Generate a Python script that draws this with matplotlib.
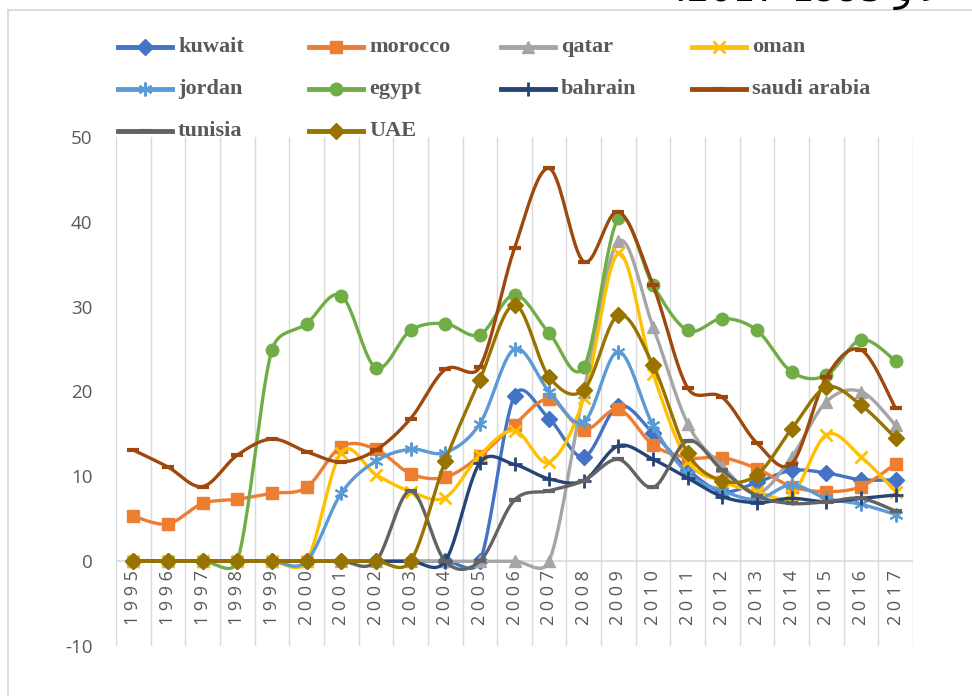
import numpy as np
import matplotlib
matplotlib.use("Agg")
import matplotlib.pyplot as plt
from matplotlib.lines import Line2D

plt.rcParams["axes.unicode_minus"] = False

# values
years = list(range(1995, 2018))

kuwait = [0, 0, 0, 0, 0, 0, 0, 0, 0, 0, 0,
          19.5, 16.8, 12.3, 18.3, 15.1, 10.8, 8.2, 9.3, 10.7, 10.4, 9.6, 9.6]
morocco = [5.3, 4.4, 6.8, 7.3, 8.0, 8.7, 13.5, 13.2, 10.3, 9.9, 12.4, 16.1,
           19.1, 15.5, 17.9, 13.7, 12.2, 12.2, 10.9, 8.8, 8.2, 8.8, 11.5]
qatar = [0, 0, 0, 0, 0, 0, 0, 0, 0, 0, 0, 0, 0,
         20.0, 37.7, 27.6, 16.2, 11.2, 8.0, 12.3, 18.8, 20.0, 16.0]
oman = [0, 0, 0, 0, 0, 0,
        12.8, 10.2, 8.2, 7.5, 12.5, 15.4, 11.7, 19.2, 36.3, 22.1, 11.8, 9.4,
        8.2, 7.8, 14.9, 12.3, 8.2]
jordan = [0, 0, 0, 0, 0, 0,
          8.0, 11.8, 13.2, 12.8, 16.2, 25.0, 20.0, 16.4, 24.7, 16.0, 10.3, 8.3,
          7.3, 9.0, 7.4, 6.7, 5.5]
egypt = [0, 0, 0, 0, 24.9, 28.0, 31.3, 22.8, 27.2, 28.0, 26.7, 31.4, 26.9,
         22.9, 40.4, 32.5, 27.2, 28.6, 27.2, 22.3, 21.9, 26.1, 23.6]
bahrain = [0, 0, 0, 0, 0, 0, 0, 0, 0, 0,
           11.6, 11.4, 9.7, 9.5, 13.6, 12.0, 9.8, 7.6, 6.9, 7.4, 7.0, 7.4, 7.8]
saudi_arabia = [13.1, 11.1, 8.8, 12.5, 14.4, 12.9, 11.7, 13.1, 16.8, 22.6,
                22.9, 36.9, 46.3, 35.3, 41.2, 32.5, 20.4, 19.3, 13.9, 11.5,
                21.7, 24.9, 18.0]
tunisia = [0, 0, 0, 0, 0, 0, 0, 0,
           8.3, 0, 0, 7.2, 8.3, 9.5, 12.0, 8.7, 14.2, 10.7, 7.7, 6.8, 7.0,
           7.4, 5.9]
uae = [0, 0, 0, 0, 0, 0, 0, 0, 0,
       11.8, 21.4, 30.2, 21.7, 20.2, 29.0, 23.1, 12.7, 9.5, 10.2, 15.6, 20.5,
       18.4, 14.5]

names = ["kuwait", "morocco", "qatar", "oman", "jordan", "egypt",
         "bahrain", "saudi arabia", "tunisia", "UAE"]
data = [kuwait, morocco, qatar, oman, jordan, egypt,
        bahrain, saudi_arabia, tunisia, uae]
colors = ["#4472C4", "#ED7D31", "#A5A5A5", "#FFC000", "#5B9BD5", "#70AD47",
          "#264478", "#9E480E", "#636363", "#997300"]
# marker, size, edge width
markers = [("D", 8, 1), ("s", 9, 1), ("^", 9, 1), ("x", 9, 2),
           ((6, 2, 0), 10, 1.5), ("o", 9, 1), ("+", 10, 2),
           ("_", 9, 3), ("_", 9, 3), ("D", 8, 1)]

W, H = 972, 696
PX = np.array([797 / 23, 509 / 60])   # pixels per data unit (x, y)


def smooth(y, n=24):
    # bezier smoothing like the office "smoothed line",
    # control arms capped at half the segment length (in pixels)
    pts = np.column_stack([np.arange(len(y)), np.asarray(y, float)])
    p = np.vstack([pts[0], pts, pts[-1]])
    t = np.linspace(0, 1, n)[:, None]
    out = []
    for i in range(1, len(p) - 2):
        p0, p1, p2, p3 = p[i - 1], p[i], p[i + 1], p[i + 2]
        half = np.linalg.norm((p2 - p1) * PX) / 2
        a1 = (p2 - p0) / 6
        a2 = (p3 - p1) / 6
        l1 = np.linalg.norm(a1 * PX)
        l2 = np.linalg.norm(a2 * PX)
        if l1 > half:
            a1 = a1 * half / l1
        if l2 > half:
            a2 = a2 * half / l2
        c1 = p1 + a1
        c2 = p2 - a2
        seg = (1 - t) ** 3 * p1 + 3 * (1 - t) ** 2 * t * c1 \
            + 3 * (1 - t) * t ** 2 * c2 + t ** 3 * p2
        out.append(seg if i == 1 else seg[1:])
    return np.vstack(out)


fig = plt.figure(figsize=(W / 100, H / 100), dpi=100)
ax = fig.add_axes([116 / W, 1 - 646 / H, 797 / W, 509 / H])

grid = "#D9D9D9"
for k in range(len(years) + 1):
    ax.plot([k - 0.5, k - 0.5], [-10, 50], color=grid, lw=1, zorder=0)
ax.plot([-0.5, len(years) - 0.5], [0, 0], color=grid, lw=1.2, zorder=0)

x = np.arange(len(years))
for i, (vals, col, mk) in enumerate(zip(data, colors, markers)):
    c = smooth(vals)
    ax.plot(c[:, 0], c[:, 1], color=col, lw=2.4, solid_capstyle="round",
            zorder=2 + i)
    ax.plot(x, vals, ls="none", marker=mk[0], ms=mk[1], mew=mk[2],
            color=col, mec=col, zorder=2 + i)

ax.set_xlim(-0.5, len(years) - 0.5)
ax.set_ylim(-10, 50)
for s in ax.spines.values():
    s.set_visible(False)
ax.set_xticks([])
ax.set_yticks(range(-10, 51, 10))
ax.tick_params(axis="y", length=0, pad=17, labelsize=13.5, labelcolor="#595959")
for lab in ax.get_yticklabels():
    lab.set_family("Open Sans")

for i, yr in enumerate(years):
    ax.text(i, -1.1, " ".join(str(yr)), rotation=90, ha="center", va="top",
            fontsize=13, color="#595959", family="Open Sans")

# legend, drawn by hand in 4 columns
col_x = [118, 309, 501, 692]
row_y = [47, 89, 131]
for i, (name, col, mk) in enumerate(zip(names, colors, markers)):
    r, cc = divmod(i, 4)
    x0 = col_x[cc] / W
    x1 = (col_x[cc] + 54) / W
    yy = 1 - row_y[r] / H
    fig.add_artist(Line2D([x0, x1], [yy, yy], color=col, lw=3.5,
                          transform=fig.transFigure))
    fig.add_artist(Line2D([(x0 + x1) / 2], [yy], ls="none", marker=mk[0],
                          ms=mk[1], mew=mk[2], color=col, mec=col,
                          transform=fig.transFigure))
    fig.text((col_x[cc] + 60) / W, yy, name, ha="left", va="center",
             fontsize=16, fontweight="bold", color="#595959",
             family="Liberation Serif")

# chart frame
fig.add_artist(Line2D([8 / W, 8 / W], [0, 1 - 10 / H], color=grid, lw=1.3,
                      transform=fig.transFigure))
fig.add_artist(Line2D([8 / W, 1], [1 - 10 / H, 1 - 10 / H], color=grid,
                      lw=1.3, transform=fig.transFigure))

# title, cut off at the top of the picture as in the source
fig.text(945 / W, 1 - 1 / H, ".2017-1995 \ufeed \ufecb", ha="right",
         va="baseline", fontsize=26, color="#000000",
         family=["DejaVu Sans", "Noto Sans"])

fig.savefig("out.png", dpi=100)
